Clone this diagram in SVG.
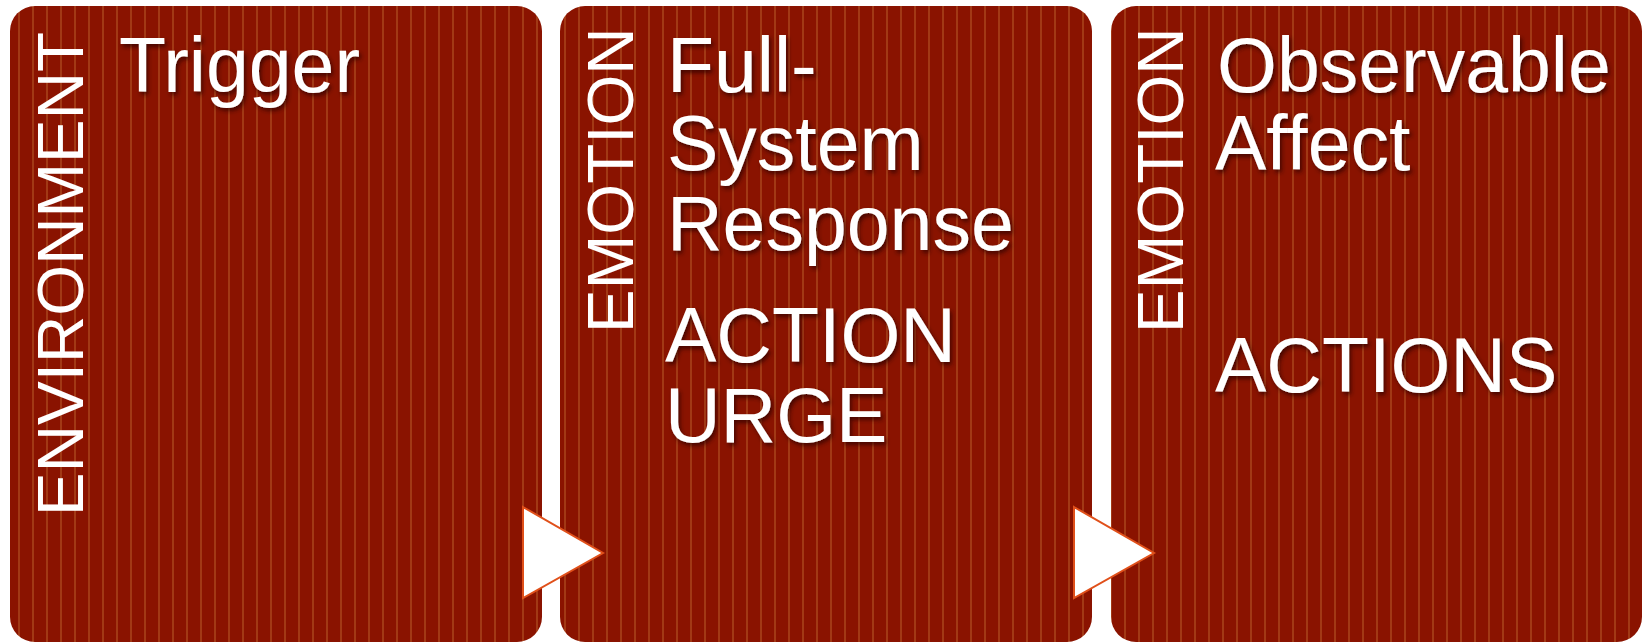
<svg xmlns="http://www.w3.org/2000/svg" width="1648" height="643" viewBox="0 0 1648 643">
<defs>
<pattern id="stripes" patternUnits="userSpaceOnUse" x="4" y="0" width="14" height="643">
<rect width="14" height="643" fill="#8a1300"/>
<rect x="0" y="0" width="2" height="643" fill="#a8421a" opacity="0.8"/>
</pattern>
<filter id="shadow" x="-10%" y="-10%" width="130%" height="130%">
<feDropShadow dx="2" dy="3" stdDeviation="2" flood-color="#2a0000" flood-opacity="0.7"/>
</filter>
</defs>
<style>
.box{fill:url(#stripes);}
.t{font-family:"Liberation Sans",Arial,sans-serif;fill:#ffffff;font-size:77px;filter:url(#shadow);}
.v{font-family:"Liberation Sans",Arial,sans-serif;fill:#ffffff;font-size:65.5px;}
.arrow{fill:#ffffff;stroke:#e0501a;stroke-width:2;stroke-linejoin:miter;}
</style>
<rect width="1648" height="643" fill="#ffffff"/>
<g id="node-environment">
<rect class="box" x="10" y="6" width="532" height="636" rx="25" ry="25"/>
<text class="v" transform="translate(83,516) rotate(-90)">ENVIRONMENT</text>
<text class="t" x="119" y="92">Trigger</text>
</g>
<g id="node-emotion1">
<rect class="box" x="560" y="6" width="532" height="636" rx="25" ry="25"/>
<text class="v" transform="translate(633,333) rotate(-90)" font-size="65">EMOTION</text>
<text class="t" x="667" y="92">Full-</text>
<text class="t" x="667" y="170">System</text>
<text class="t" x="667" y="250">Response</text>
<text class="t" x="665" y="362">ACTION</text>
<text class="t" x="665" y="442">URGE</text>
</g>
<g id="node-emotion2">
<rect class="box" x="1111" y="6" width="531" height="636" rx="25" ry="25"/>
<text class="v" transform="translate(1183,333) rotate(-90)" font-size="65">EMOTION</text>
<text class="t" x="1217" y="92">Observable</text>
<text class="t" x="1215" y="170">Affect</text>
<text class="t" x="1215" y="392">ACTIONS</text>
</g>
<g id="connectors">
<polygon class="arrow" points="523,507 603,553 523,598"/>
<polygon class="arrow" points="1074,507 1154,553 1074,598"/>
</g>
</svg>
